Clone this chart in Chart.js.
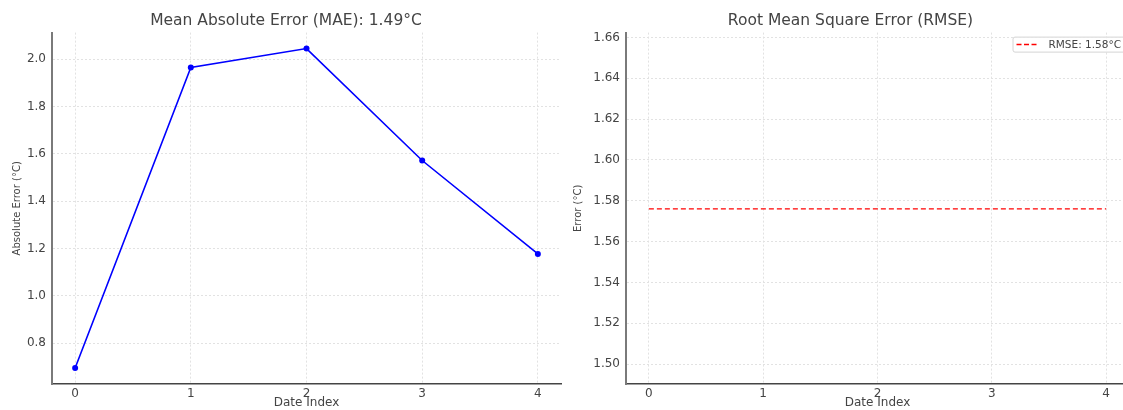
<!DOCTYPE html>
<html>
<head>
<meta charset="utf-8">
<script src="https://cdn.jsdelivr.net/npm/chart.js@4.4.1/dist/chart.umd.min.js"></script>
<style>
  html, body { margin: 0; padding: 0; background: #fff; overflow: hidden; width: 1123px; height: 410px; }
  .panel { position: absolute; top: 0; height: 410px; }
  #mae-wrap { left: 0; width: 575px; }
  #rmse-wrap { left: 570px; width: 565px; }
</style>
</head>
<body>
<div class="panel" id="mae-wrap"><canvas id="mae-chart"></canvas></div>
<div class="panel" id="rmse-wrap"><canvas id="rmse-chart"></canvas></div>
<script>
/* MAE / RMSE comparison — two panels side by side */

const dateIndex = [0, 1, 2, 3, 4];
const absError = [0.695, 1.965, 2.045, 1.572, 1.177];
const rmseLine = [1.576, 1.576, 1.576, 1.576, 1.576];

const xTicks = [0, 1, 2, 3, 4];
const maeTicks = [0.8, 1.0, 1.2, 1.4, 1.6, 1.8, 2.0];
const rmseTicks = [1.50, 1.52, 1.54, 1.56, 1.58, 1.60, 1.62, 1.64, 1.66];

const FONT = 'DejaVu Sans, sans-serif';
const TEXT = '#444';
const GRID = '#e2e2e2';

Chart.defaults.font.family = FONT;
Chart.defaults.color = TEXT;
Chart.defaults.animation = false;

// matplotlib-style legend in the upper right corner of the axes
const cornerLegend = {
    id: 'cornerLegend',
    afterDatasetsDraw(chart) {
        const ds = chart.data.datasets[0];
        const area = chart.chartArea;
        const ctx = chart.ctx;
        ctx.save();
        ctx.font = '10.5px ' + FONT;
        const tw = ctx.measureText(ds.label).width;
        const right = area.right - 4;
        const textX = right - 4 - tw;
        const lineEnd = textX - 12;
        const lineStart = lineEnd - 20;
        const left = lineStart - 4;
        const top = area.top + 4;
        const h = 15;

        ctx.fillStyle = 'rgba(255,255,255,0.8)';
        ctx.strokeStyle = '#d4d4d4';
        ctx.lineWidth = 1;
        ctx.beginPath();
        ctx.roundRect(left + 0.5, top + 0.5, right - left, h, 2);
        ctx.fill();
        ctx.stroke();

        ctx.strokeStyle = ds.borderColor;
        ctx.lineWidth = ds.borderWidth + 0.3;
        ctx.setLineDash([5, 2.5]);
        ctx.beginPath();
        ctx.moveTo(lineStart, top + h / 2 + 0.5);
        ctx.lineTo(lineEnd, top + h / 2 + 0.5);
        ctx.stroke();
        ctx.setLineDash([]);

        ctx.fillStyle = TEXT;
        ctx.textBaseline = 'middle';
        ctx.fillText(ds.label, textX, top + h / 2 + 1);
        ctx.restore();
    }
};

function xScale() {
    return {
        type: 'linear',
        min: -0.2,
        max: 4.2,
        afterBuildTicks: s => { s.ticks = xTicks.map(v => ({ value: v })); },
        afterFit: s => { s.height = 26; },
        grid: { color: GRID, drawTicks: false, lineWidth: 1 },
        border: { display: true, color: '#444', width: 1.5, dash: [2, 2] },
        ticks: { color: TEXT, padding: 3, font: { size: 12 } },
        title: {
            display: true,
            text: 'Date Index',
            color: TEXT,
            padding: { top: 0, bottom: 0 },
            font: { size: 12 }
        }
    };
}

function yScale(min, max, tickVals, digits, label, width) {
    return {
        type: 'linear',
        min: min,
        max: max,
        afterBuildTicks: s => { s.ticks = tickVals.map(v => ({ value: v })); },
        afterFit: s => { s.width = width; },
        grid: { color: GRID, drawTicks: false, lineWidth: 1 },
        border: { display: true, color: '#7a7a7a', width: 2, dash: [2, 2] },
        ticks: {
            color: TEXT,
            padding: 6,
            font: { size: 12 },
            callback: v => Number(v).toFixed(digits)
        },
        title: {
            display: true,
            text: label,
            color: TEXT,
            padding: { top: 0, bottom: 0 },
            font: { size: 10 }
        }
    };
}

function titleOpts(text) {
    return {
        display: true,
        text: text,
        color: TEXT,
        padding: { top: 12, bottom: 2 },
        font: { size: 15.5, weight: 'normal' }
    };
}

new Chart(document.getElementById('mae-chart'), {
    type: 'line',
    data: {
        datasets: [{
            label: 'MAE',
            data: dateIndex.map((x, i) => ({ x: x, y: absError[i] })),
            borderColor: '#0000ff',
            backgroundColor: '#0000ff',
            borderWidth: 1.6,
            pointRadius: 3,
            pointBorderWidth: 0,
            tension: 0
        }]
    },
    options: {
        responsive: true,
        maintainAspectRatio: false,
        layout: { padding: { left: 11, right: 14, top: 0, bottom: 0 } },
        plugins: {
            legend: { display: false },
            tooltip: { enabled: false },
            title: titleOpts('Mean Absolute Error (MAE): 1.49°C')
        },
        scales: {
            x: xScale(),
            y: yScale(0.6275, 2.1125, maeTicks, 1, 'Absolute Error (°C)', 41)
        }
    }
});

new Chart(document.getElementById('rmse-chart'), {
    type: 'line',
    data: {
        datasets: [{
            label: 'RMSE: 1.58°C',
            data: dateIndex.map((x, i) => ({ x: x, y: rmseLine[i] })),
            borderColor: '#ff0000',
            backgroundColor: '#ff0000',
            borderWidth: 1.2,
            borderDash: [5, 3],
            pointRadius: 0,
            tension: 0
        }]
    },
    options: {
        responsive: true,
        maintainAspectRatio: false,
        layout: { padding: { left: 2, right: 6, top: 0, bottom: 0 } },
        plugins: {
            legend: { display: false },
            tooltip: { enabled: false },
            title: titleOpts('Root Mean Square Error (RMSE)')
        },
        scales: {
            x: xScale(),
            y: yScale(1.4902, 1.6624, rmseTicks, 2, 'Error (°C)', 54)
        }
    },
    plugins: [cornerLegend]
});
</script>
</body>
</html>
